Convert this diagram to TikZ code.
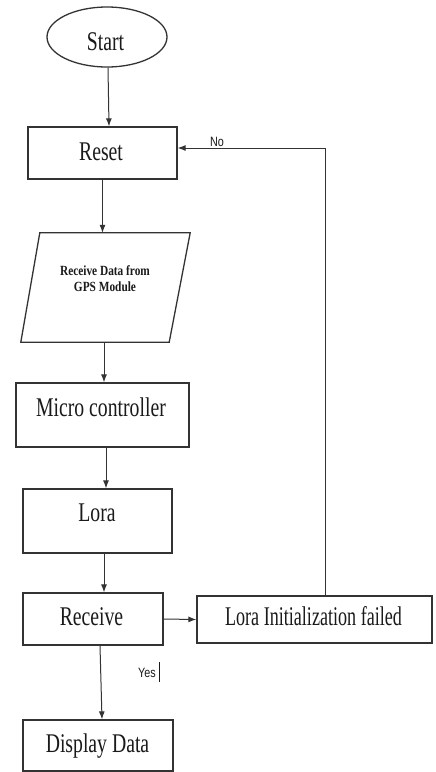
\documentclass[tikz,border=0pt]{standalone}
\usepackage{fontspec}
\setmainfont{Liberation Serif}
\newfontfamily\tnr[FakeStretch=0.73]{Liberation Serif}
\newfontfamily\tnrc[FakeStretch=0.67]{Liberation Serif}
\newfontfamily\tnrb[FakeStretch=0.81]{Liberation Serif}
\newfontfamily\ars[FakeStretch=0.8]{Liberation Sans}
\usetikzlibrary{shapes.geometric,arrows.meta}
\definecolor{linec}{HTML}{333333}
\definecolor{textc}{HTML}{1A1A1A}
\begin{document}
\begin{tikzpicture}[x=1pt,y=-1pt,
  outline/.style={draw=linec, line width=1.3pt},
  box/.style={outline, rectangle, inner sep=0pt},
  arr/.style={draw=linec, line width=1pt, -{Latex[length=8pt,width=6pt]}},
  txt/.style={anchor=base, inner sep=0pt, font=\tnr\fontsize{27}{30}\selectfont, text=textc},
  lbl/.style={inner sep=0pt, font=\ars\fontsize{13.5}{15}\selectfont, text=textc}
]
\useasboundingbox (0,0) rectangle (436,772);
\fill[white] (0,0) rectangle (436,772);

% shapes
\node[ellipse, outline, inner sep=0pt, minimum width=120pt, minimum height=60pt] (start) at (107,37) {};
\node[box, minimum width=149pt, minimum height=52pt] (reset) at (102.5,153) {};
\node[inner sep=0pt, minimum width=169pt, minimum height=109pt] (gps) at (105.5,287.5) {};
\draw[outline, line join=miter] ([xshift=19pt]gps.north west) -- (gps.north east) -- ([xshift=-21pt]gps.south east) -- (gps.south west) -- cycle;
\node[box, minimum width=173pt, minimum height=64pt] (micro) at (102.5,415) {};
\node[box, minimum width=149pt, minimum height=64pt] (lora) at (97.5,521) {};
\node[box, minimum width=140pt, minimum height=52pt] (recv) at (93,619) {};
\node[box, minimum width=235pt, minimum height=47pt] (fail) at (314.5,619.5) {};
\node[box, minimum width=150pt, minimum height=51pt] (disp) at (98,745.5) {};

% texts
\node[txt] at (105.5,50) {Start};
\node[txt] at (101,160) {Reset};
\node[inner sep=0pt, align=center, text=textc, font=\tnrb\bfseries\fontsize{14}{16}\selectfont] at (105,278.5) {Receive Data from\\GPS Module};
\node[txt] at (101,416) {Micro controller};
\node[txt] at (97,521) {Lora};
\node[txt] at (91.5,625) {Receive};
\node[txt, font=\tnrc\fontsize{27}{30}\selectfont] at (313.5,625) {Lora Initialization failed};
\node[txt] at (97.5,752) {Display Data};
\node[lbl, anchor=base] at (217,146) {No};
\node[lbl, anchor=base west] at (138,677) {Yes\hspace{3pt}\rule[-5pt]{0.8pt}{20pt}};

% connectors
\draw[arr] ([xshift=1pt]start.south) -- ([xshift=6.5pt]reset.north);
\draw[arr] (reset.south) -- (reset.south |- gps.north);
\draw[arr] ([xshift=1.5pt]micro.north |- gps.south) -- ([xshift=1.5pt]micro.north);
\draw[arr] ([xshift=3.5pt]micro.south) -- ([xshift=8.5pt]lora.north);
\draw[arr] ([xshift=6.5pt]lora.south) -- ([xshift=11pt]recv.north);
\draw[arr] (recv.east) -- (fail.west);
\draw[arr] ([xshift=7pt]recv.south) -- ([xshift=4pt]disp.north);
\draw[arr] ([xshift=10.5pt]fail.north) |- ([yshift=5pt]reset.east);
\end{tikzpicture}
\end{document}
